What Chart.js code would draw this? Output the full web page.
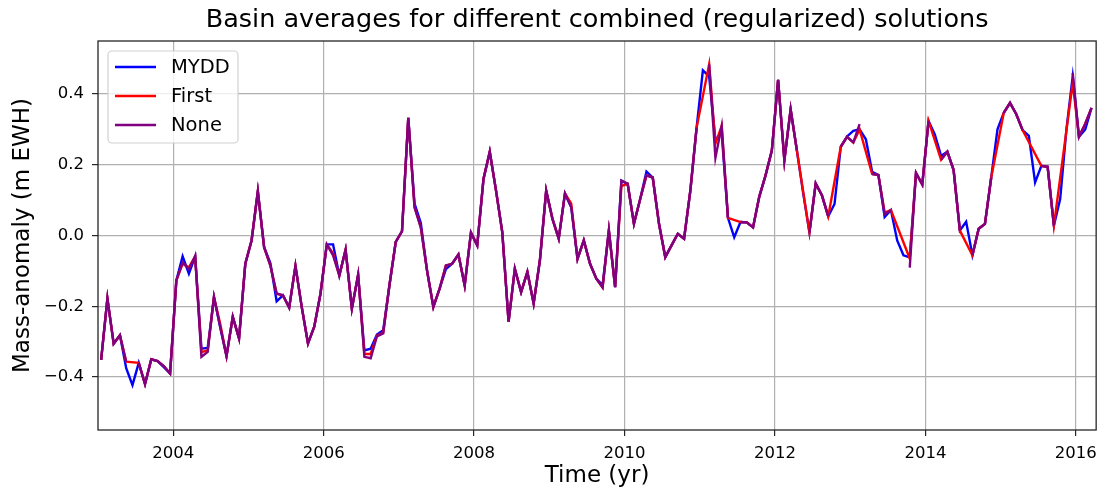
<!DOCTYPE html>
<html>
<head>
<meta charset="utf-8">
<title>Basin averages</title>
<script src="https://cdn.jsdelivr.net/npm/chart.js@4.4.0/dist/chart.umd.min.js"></script>
<style>
  html, body { margin: 0; padding: 0; background: #fff; }
  #wrap { width: 1105px; height: 490px; }
</style>
</head>
<body>
<div id="wrap"><canvas id="basinChart" width="1105" height="490"></canvas></div>
<script>
// Monthly basin averages (m EWH), Jan 2003 .. Mar 2016, one row per year
const firstYear = 2003;

const mydd = [
  -0.352, -0.178, -0.306, -0.282, -0.375, -0.423, -0.36, -0.42, -0.35, -0.355, -0.372, -0.39,
  -0.127, -0.059, -0.108, -0.059, -0.32, -0.318, -0.174, -0.26, -0.341, -0.23, -0.291, -0.08,
  -0.014, 0.125, -0.033, -0.078, -0.186, -0.169, -0.204, -0.086, -0.202, -0.305, -0.258, -0.164,
  -0.025, -0.025, -0.113, -0.04, -0.207, -0.111, -0.325, -0.32, -0.28, -0.268, -0.14, -0.018,
  0.012, 0.333, 0.09, 0.035, -0.1, -0.202, -0.15, -0.095, -0.08, -0.054, -0.141, 0.008,
  -0.028, 0.16, 0.237, 0.127, 0.009, -0.244, -0.094, -0.16, -0.103, -0.192, -0.07, 0.127,
  0.047, -0.009, 0.119, 0.08, -0.066, -0.014, -0.08, -0.122, -0.14, 0.014, -0.146, 0.155,
  0.146, 0.033, 0.103, 0.181, 0.164, 0.033, -0.061, -0.028, 0.005, -0.009, 0.127, 0.305,
  0.467, 0.45, 0.27, 0.29, 0.05, -0.005, 0.038, 0.037, 0.023, 0.11, 0.17, 0.24,
  0.44, 0.213, 0.357, 0.24, 0.12, 0.009, 0.147, 0.113, 0.054, 0.089, 0.251, 0.28,
  0.296, 0.30, 0.272, 0.18, 0.171, 0.052, 0.072, -0.014, -0.056, -0.062, 0.177, 0.144,
  0.324, 0.286, 0.225, 0.237, 0.185, 0.014, 0.039, -0.056, 0.019, 0.033, 0.164, 0.30,
  0.347, 0.375, 0.343, 0.298, 0.282, 0.15, 0.197, 0.194, 0.028, 0.103, 0.30, 0.45,
  0.279, 0.30, 0.361
];

// null = month left out of the solution
const first = [
  -0.352, -0.178, -0.306, -0.282, -0.357, null, -0.36, -0.42, -0.35, -0.355, -0.369, -0.39,
  -0.127, -0.08, -0.09, -0.059, -0.33, -0.325, -0.174, -0.25, -0.341, -0.23, -0.291, -0.08,
  -0.014, 0.125, -0.033, -0.085, -0.165, -0.169, -0.204, -0.086, -0.202, -0.305, -0.258, -0.164,
  -0.025, -0.05, -0.113, -0.04, -0.207, -0.111, -0.335, -0.335, -0.283, -0.275, -0.14, -0.018,
  0.012, 0.333, 0.08, 0.023, -0.1, -0.202, -0.15, -0.085, -0.08, -0.054, -0.141, 0.008,
  -0.028, 0.16, 0.237, 0.127, 0.009, -0.244, -0.094, -0.16, -0.103, -0.192, -0.07, 0.127,
  0.047, -0.009, 0.119, 0.09, -0.066, -0.014, -0.08, -0.122, -0.147, 0.014, -0.146, 0.14,
  0.146, 0.033, 0.103, 0.17, 0.164, 0.033, -0.061, -0.028, 0.005, -0.009, 0.127, 0.305,
  null, 0.484, 0.26, 0.31, 0.05, null, 0.038, 0.037, 0.023, 0.11, 0.17, 0.24,
  0.44, 0.213, 0.357, 0.24, null, 0.009, 0.147, 0.113, 0.054, null, 0.251, 0.279,
  0.263, 0.30, null, 0.174, 0.171, 0.065, 0.072, null, null, -0.065, 0.177, 0.144,
  0.324, null, 0.214, 0.237, 0.185, 0.014, null, -0.056, 0.019, 0.033, 0.164, null,
  0.347, 0.375, 0.343, 0.298, null, null, 0.197, 0.194, 0.028, null, null, 0.432,
  0.279, 0.316, 0.361
];

const none = [
  -0.352, -0.178, -0.306, -0.282, -0.357, null, -0.36, -0.42, -0.35, -0.355, -0.369, -0.39,
  -0.127, -0.076, -0.095, -0.059, -0.343, -0.329, -0.174, -0.258, -0.341, -0.23, -0.291, -0.08,
  -0.014, 0.125, -0.033, -0.085, -0.164, -0.169, -0.204, -0.086, -0.202, -0.305, -0.258, -0.164,
  -0.025, -0.056, -0.113, -0.04, -0.207, -0.111, -0.343, -0.347, -0.285, -0.277, -0.14, -0.018,
  0.012, 0.333, 0.08, 0.023, -0.1, -0.202, -0.15, -0.085, -0.08, -0.054, -0.141, 0.008,
  -0.028, 0.16, 0.237, 0.127, 0.009, -0.244, -0.094, -0.16, -0.103, -0.192, -0.07, 0.127,
  0.047, -0.009, 0.119, 0.08, -0.066, -0.014, -0.08, -0.122, -0.147, 0.014, -0.146, 0.155,
  0.146, 0.033, 0.103, 0.17, 0.164, 0.033, -0.061, -0.028, 0.005, -0.009, 0.127, 0.305,
  null, 0.484, 0.22, 0.31, 0.05, null, 0.038, 0.037, 0.023, 0.11, 0.17, 0.24,
  0.44, 0.213, 0.357, 0.24, null, 0.009, 0.147, 0.113, 0.054, null, 0.251, 0.279,
  0.263, 0.315, null, 0.174, 0.171, 0.06, 0.072, null, null, -0.091, 0.177, 0.144,
  0.324, null, 0.214, 0.237, 0.185, 0.014, null, -0.056, 0.019, 0.033, 0.164, null,
  0.347, 0.375, 0.343, 0.298, null, null, 0.197, 0.194, 0.028, null, null, 0.46,
  0.279, 0.316, 0.361
];

// mid-month decimal years
const times = mydd.map((_, i) => firstYear + (i + 0.5) / 12);

const xTicks = [2004, 2006, 2008, 2010, 2012, 2014, 2016];
const yTicks = [-0.4, -0.2, 0.0, 0.2, 0.4];

const titleText = 'Basin averages for different combined (regularized) solutions';

const FONT = '"DejaVu Sans", "Liberation Sans", sans-serif';

// title centred over the plot area rather than the whole canvas
const axesTitle = {
    id: 'axesTitle',
    afterDraw(chart) {
        const { ctx, chartArea: a } = chart;
        ctx.save();
        ctx.font = '25.5px ' + FONT;
        ctx.fillStyle = '#000';
        ctx.textAlign = 'center';
        ctx.textBaseline = 'middle';
        ctx.fillText(titleText, (a.left + a.right) / 2, 20);
        ctx.restore();
    }
};

// axes frame on all four sides
const frame = {
    id: 'frame',
    afterDatasetsDraw(chart) {
        const { ctx, chartArea: a } = chart;
        ctx.save();
        ctx.strokeStyle = '#262626';
        ctx.lineWidth = 1.3;
        ctx.strokeRect(a.left, a.top, a.right - a.left, a.bottom - a.top);
        ctx.restore();
    }
};

// legend box in the upper-left corner of the plot
const insetLegend = {
    id: 'insetLegend',
    afterDraw(chart) {
        const { ctx, chartArea } = chart;
        const x0 = chartArea.left + 10;
        const y0 = chartArea.top + 10;
        ctx.save();
        ctx.beginPath();
        ctx.roundRect(x0, y0, 130, 92, 4);
        ctx.fillStyle = 'rgba(255,255,255,0.8)';
        ctx.fill();
        ctx.strokeStyle = 'rgba(204,204,204,0.9)';
        ctx.lineWidth = 1.2;
        ctx.stroke();
        ctx.font = '19.5px ' + FONT;
        ctx.textBaseline = 'middle';
        chart.data.datasets.forEach((ds, i) => {
            const y = y0 + 16 + i * 29;
            ctx.strokeStyle = ds.borderColor;
            ctx.lineWidth = 2.4;
            ctx.beginPath();
            ctx.moveTo(x0 + 7, y);
            ctx.lineTo(x0 + 48, y);
            ctx.stroke();
            ctx.fillStyle = '#000';
            ctx.fillText(ds.label, x0 + 63, y + 1);
        });
        ctx.restore();
    }
};

const ctx = document.getElementById('basinChart').getContext('2d');
const chart = new Chart(ctx, {
    type: 'line',
    data: {
        labels: times,
        datasets: [
            { label: 'MYDD', data: mydd, borderColor: '#0000ff', order: 3, spanGaps: true },
            { label: 'First', data: first, borderColor: '#ff0000', order: 2, spanGaps: true },
            { label: 'None', data: none, borderColor: '#800080', order: 1, spanGaps: false }
        ]
    },
    options: {
        responsive: false,
        animation: false,
        layout: { padding: { left: 0, right: 8, top: 41, bottom: 0 } },
        elements: {
            point: { radius: 0, hoverRadius: 0 },
            line: { borderWidth: 2.4, tension: 0, fill: false, borderJoinStyle: 'miter', borderCapStyle: 'butt' }
        },
        plugins: {
            legend: { display: false },
            tooltip: { enabled: false },
            title: { display: false }
        },
        scales: {
            x: {
                type: 'linear',
                min: 2003.0,
                max: 2016.27,
                afterBuildTicks: (s) => { s.ticks = xTicks.map(v => ({ value: v })); },
                afterFit: (s) => { s.height = 60; },
                ticks: {
                    color: '#000',
                    font: { family: FONT, size: 16.5 },
                    padding: 8,
                    maxRotation: 0,
                    autoSkip: false,
                    callback: (v) => String(v)
                },
                grid: { color: '#b0b0b0', lineWidth: 1.2, tickColor: '#262626', tickLength: 6, tickWidth: 1.2 },
                border: { display: false },
                title: {
                    display: true,
                    text: 'Time (yr)',
                    color: '#000',
                    font: { family: FONT, size: 23, lineHeight: 1.2 },
                    padding: { top: 0, bottom: 0 }
                }
            },
            y: {
                type: 'linear',
                min: -0.55,
                max: 0.55,
                afterBuildTicks: (s) => { s.ticks = yTicks.map(v => ({ value: v })); },
                afterFit: (s) => { s.width = 98; },
                ticks: {
                    color: '#000',
                    font: { family: FONT, size: 16.5 },
                    padding: 8,
                    callback: (v) => v.toFixed(1).replace('-', '\u2212')
                },
                grid: { color: '#b0b0b0', lineWidth: 1.2, tickColor: '#262626', tickLength: 6, tickWidth: 1.2 },
                border: { display: false },
                title: {
                    display: true,
                    text: 'Mass-anomaly (m EWH)',
                    color: '#000',
                    font: { family: FONT, size: 23, lineHeight: 1.2 },
                    padding: { top: 9, bottom: 0 }
                }
            }
        }
    },
    plugins: [frame, insetLegend, axesTitle]
});
</script>
</body>
</html>
